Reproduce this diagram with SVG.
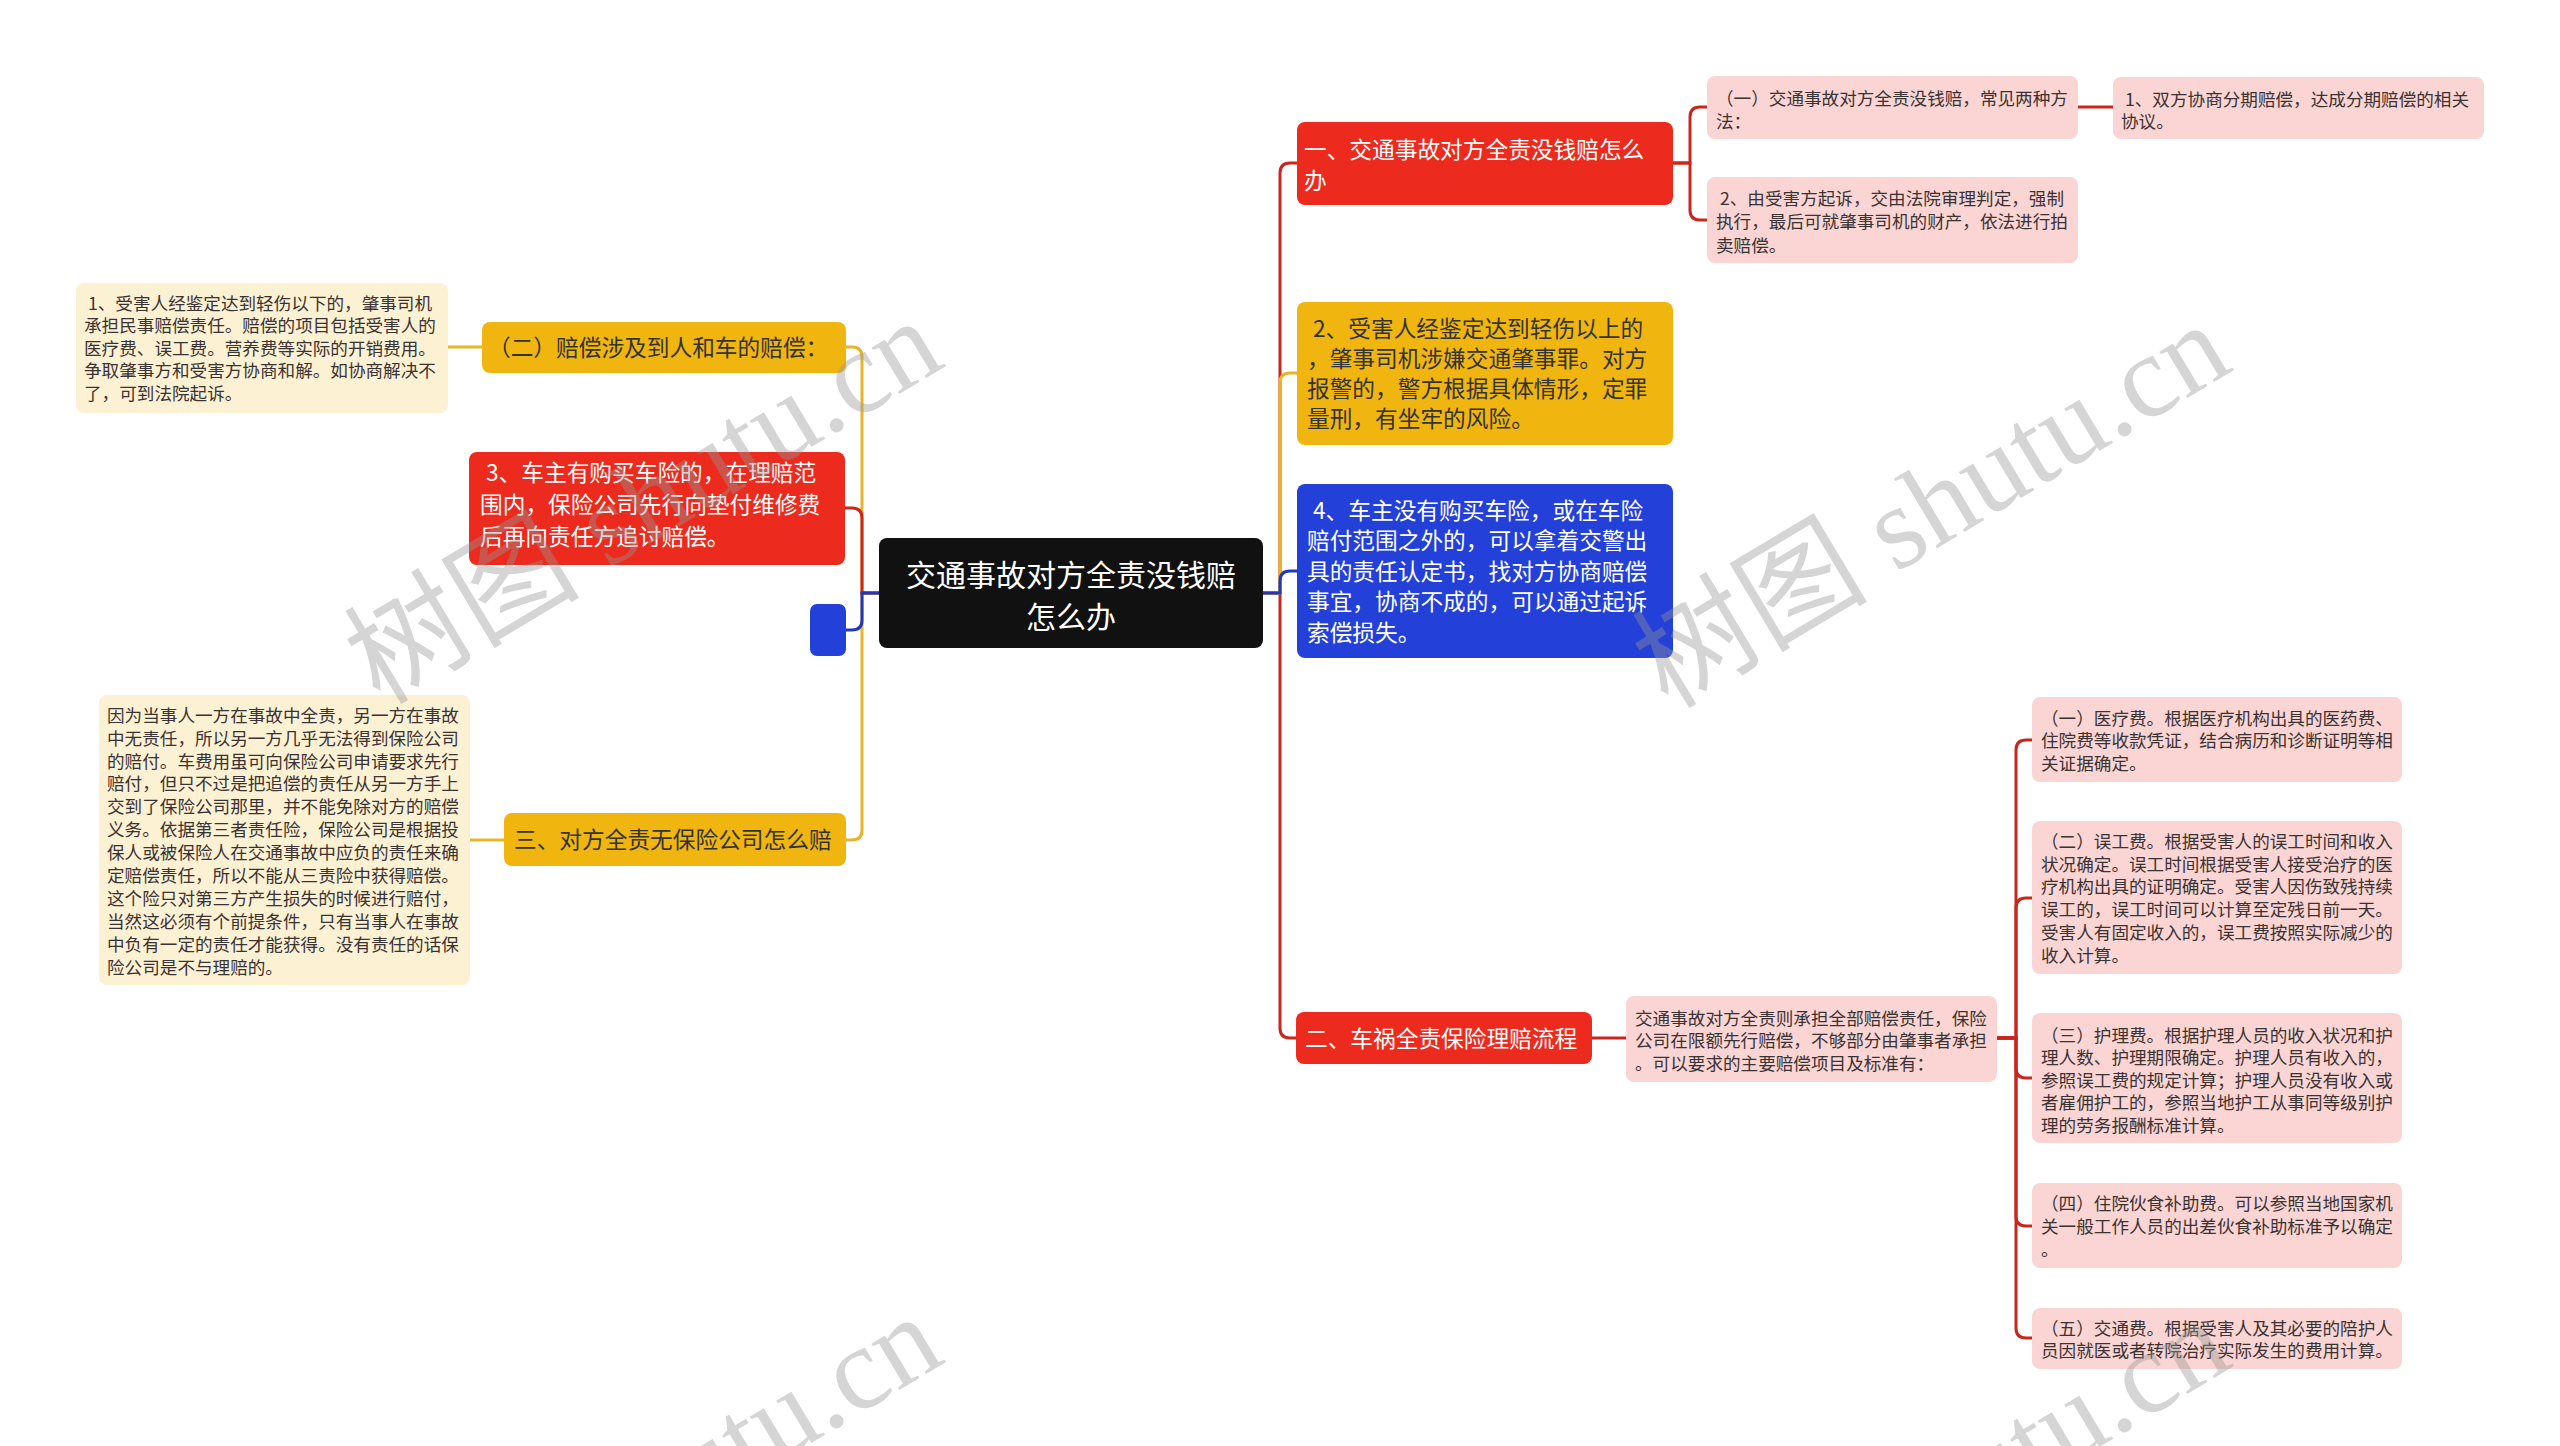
<svg xmlns="http://www.w3.org/2000/svg" width="2560" height="1446" viewBox="0 0 2560 1446">
<style>
text{font-family:"Noto Sans CJK SC","Noto Sans",sans-serif;}
.root{fill:#111111;}
.red{fill:#ec2a1d;}
.yel{fill:#f0b50f;}
.blu{fill:#2340d8;}
.pink{fill:#fad5d3;}
.pale{fill:#fdf1d3;}
.tr{font-size:30px;fill:#ffffff;text-anchor:middle;}
.tw{font-size:22.7px;fill:#ffffff;}
.td{font-size:22.7px;fill:#333333;}
.tl{font-size:17.6px;fill:#3a3333;}
.c{fill:none;stroke-width:3;}
.cr{stroke:#c9261d;}
.cy{stroke:#e8b52a;}
.cb{stroke:#2138b8;}
.wm{font-family:"Liberation Serif","Noto Sans CJK SC",serif;font-size:118px;fill:#969696;fill-opacity:0.4;}
</style>
<rect width="2560" height="1446" fill="#ffffff"/>
<g id="connectors">
  <path class="c cr" d="M1263 593 H1280 V173 Q1280 163 1290 163 H1298"/>
  <path class="c cr" d="M1263 593 H1280 V1028 Q1280 1038 1290 1038 H1296"/>
  <path class="c cy" d="M1263 593 H1280 V383 Q1280 373 1290 373 H1297"/>
  <path class="c cb" d="M1263 593 H1280 V581 Q1280 571 1290 571 H1297"/>
  <path class="c cr" d="M1672 163 H1690 V117 Q1690 107 1700 107 H1707"/>
  <path class="c cr" d="M1672 163 H1690 V210 Q1690 220 1700 220 H1707"/>
  <path class="c cr" d="M2078 107 H2113"/>
  <path class="c cr" d="M1592 1038 H1626"/>
  <path class="c cr" d="M1997 1038 H2016 V750 Q2016 740 2026 740 H2032"/>
  <path class="c cr" d="M1997 1038 H2016 V908 Q2016 898 2026 898 H2032"/>
  <path class="c cr" d="M1997 1038 H2016 V1068 Q2016 1078 2026 1078 H2032"/>
  <path class="c cr" d="M1997 1038 H2016 V1216 Q2016 1226 2026 1226 H2032"/>
  <path class="c cr" d="M1997 1038 H2016 V1328 Q2016 1338 2026 1338 H2032"/>
  <path class="c cy" d="M879 593 H862 V357 Q862 347 852 347 H846"/>
  <path class="c cy" d="M879 593 H862 V830 Q862 840 852 840 H846"/>
  <path class="c cr" d="M879 593 H862 V518 Q862 508 852 508 H845"/>
  <path class="c cb" d="M879 593 H862 V620 Q862 630 852 630 H846"/>
  <path class="c cy" d="M482 347 H448"/>
  <path class="c cy" d="M504 840 H470"/>
</g>
<g id="root">
  <rect class="root" x="879" y="538" width="384" height="110" rx="8"/>
  <text class="tr"><tspan x="1071" y="586.4">交通事故对方全责没钱赔</tspan><tspan x="1071" y="628.4">怎么办</tspan></text>
</g>
<g id="r1">
  <rect class="red" x="1297" y="122" width="376" height="83" rx="8"/>
  <text class="tw"><tspan x="1304" y="157.6">一、交通事故对方全责没钱赔怎么</tspan><tspan x="1304" y="188.6">办</tspan></text>
</g>
<g id="r1a">
  <rect class="pink" x="1707" y="76" width="371" height="63" rx="8"/>
  <text class="tl"><tspan x="1716" y="105">（一）交通事故对方全责没钱赔，常见两种方</tspan><tspan x="1716" y="128.4">法：</tspan></text>
</g>
<g id="r1a1">
  <rect class="pink" x="2113" y="77" width="371" height="62" rx="8"/>
  <text class="tl"><tspan x="2125" y="105.7">1、双方协商分期赔偿，达成分期赔偿的相关</tspan><tspan x="2121" y="128.4">协议。</tspan></text>
</g>
<g id="r1b">
  <rect class="pink" x="1707" y="177" width="371" height="86" rx="8"/>
  <text class="tl"><tspan x="1720" y="205">2、由受害方起诉，交由法院审理判定，强制</tspan><tspan x="1716" y="228.4">执行，最后可就肇事司机的财产，依法进行拍</tspan><tspan x="1716" y="251.7">卖赔偿。</tspan></text>
</g>
<g id="r2">
  <rect class="yel" x="1297" y="302" width="376" height="143" rx="8"/>
  <text class="td"><tspan x="1313" y="336.6">2、受害人经鉴定达到轻伤以上的</tspan><tspan x="1307" y="366.6">，肇事司机涉嫌交通肇事罪。对方</tspan><tspan x="1307" y="396.6">报警的，警方根据具体情形，定罪</tspan><tspan x="1307" y="426.6">量刑，有坐牢的风险。</tspan></text>
</g>
<g id="r3">
  <rect class="blu" x="1297" y="484" width="376" height="174" rx="8"/>
  <text class="tw"><tspan x="1313" y="518.6">4、车主没有购买车险，或在车险</tspan><tspan x="1307" y="549.1">赔付范围之外的，可以拿着交警出</tspan><tspan x="1307" y="579.6">具的责任认定书，找对方协商赔偿</tspan><tspan x="1307" y="610.1">事宜，协商不成的，可以通过起诉</tspan><tspan x="1307" y="640.6">索偿损失。</tspan></text>
</g>
<g id="r4">
  <rect class="red" x="1296" y="1012" width="296" height="52" rx="8"/>
  <text class="tw"><tspan x="1305" y="1046.6">二、车祸全责保险理赔流程</tspan></text>
</g>
<g id="r4a">
  <rect class="pink" x="1626" y="996" width="371" height="86" rx="8"/>
  <text class="tl"><tspan x="1635" y="1025">交通事故对方全责则承担全部赔偿责任，保险</tspan><tspan x="1635" y="1046.7">公司在限额先行赔偿，不够部分由肇事者承担</tspan><tspan x="1635" y="1070">。可以要求的主要赔偿项目及标准有：</tspan></text>
</g>
<g id="c1">
  <rect class="pink" x="2032" y="697" width="370" height="85" rx="8"/>
  <text class="tl"><tspan x="2041" y="725">（一）医疗费。根据医疗机构出具的医药费、</tspan><tspan x="2041" y="746.7">住院费等收款凭证，结合病历和诊断证明等相</tspan><tspan x="2041" y="770">关证据确定。</tspan></text>
</g>
<g id="c2">
  <rect class="pink" x="2032" y="821" width="370" height="153" rx="8"/>
  <text class="tl"><tspan x="2041" y="848.4">（二）误工费。根据受害人的误工时间和收入</tspan><tspan x="2041" y="871">状况确定。误工时间根据受害人接受治疗的医</tspan><tspan x="2041" y="893.4">疗机构出具的证明确定。受害人因伤致残持续</tspan><tspan x="2041" y="916">误工的，误工时间可以计算至定残日前一天。</tspan><tspan x="2041" y="939">受害人有固定收入的，误工费按照实际减少的</tspan><tspan x="2041" y="961.7">收入计算。</tspan></text>
</g>
<g id="c3">
  <rect class="pink" x="2032" y="1013" width="370" height="130" rx="8"/>
  <text class="tl"><tspan x="2041" y="1041.7">（三）护理费。根据护理人员的收入状况和护</tspan><tspan x="2041" y="1064.4">理人数、护理期限确定。护理人员有收入的，</tspan><tspan x="2041" y="1086.7">参照误工费的规定计算；护理人员没有收入或</tspan><tspan x="2041" y="1109.4">者雇佣护工的，参照当地护工从事同等级别护</tspan><tspan x="2041" y="1131.7">理的劳务报酬标准计算。</tspan></text>
</g>
<g id="c4">
  <rect class="pink" x="2032" y="1183" width="370" height="85" rx="8"/>
  <text class="tl"><tspan x="2041" y="1210">（四）住院伙食补助费。可以参照当地国家机</tspan><tspan x="2041" y="1232.7">关一般工作人员的出差伙食补助标准予以确定</tspan><tspan x="2041" y="1256">。</tspan></text>
</g>
<g id="c5">
  <rect class="pink" x="2032" y="1308" width="370" height="61" rx="8"/>
  <text class="tl"><tspan x="2041" y="1335">（五）交通费。根据受害人及其必要的陪护人</tspan><tspan x="2041" y="1356.7">员因就医或者转院治疗实际发生的费用计算。</tspan></text>
</g>
<g id="l1">
  <rect class="yel" x="482" y="322" width="364" height="51" rx="8"/>
  <text class="td"><tspan x="488" y="355.6">（二）赔偿涉及到人和车的赔偿：</tspan></text>
</g>
<g id="l1a">
  <rect class="pale" x="76" y="283" width="372" height="130" rx="8"/>
  <text class="tl"><tspan x="88" y="310">1、受害人经鉴定达到轻伤以下的，肇事司机</tspan><tspan x="84" y="331.7">承担民事赔偿责任。赔偿的项目包括受害人的</tspan><tspan x="84" y="355">医疗费、误工费。营养费等实际的开销费用。</tspan><tspan x="84" y="376.7">争取肇事方和受害方协商和解。如协商解决不</tspan><tspan x="84" y="400">了，可到法院起诉。</tspan></text>
</g>
<g id="l2">
  <rect class="red" x="469" y="452" width="376" height="113" rx="8"/>
  <text class="tw"><tspan x="486" y="480.6">3、车主有购买车险的，在理赔范</tspan><tspan x="480" y="512.6">围内，保险公司先行向垫付维修费</tspan><tspan x="480" y="544.6">后再向责任方追讨赔偿。</tspan></text>
</g>
<g id="l3">
  <rect class="blu" x="810" y="604" width="36" height="52" rx="7"/>
</g>
<g id="l4">
  <rect class="yel" x="504" y="813" width="342" height="53" rx="8"/>
  <text class="td"><tspan x="514" y="848">三、对方全责无保险公司怎么赔</tspan></text>
</g>
<g id="l4a">
  <rect class="pale" x="99" y="695" width="371" height="290" rx="8"/>
  <text class="tl"><tspan x="107" y="721.7">因为当事人一方在事故中全责，另一方在事故</tspan><tspan x="107" y="744.6">中无责任，所以另一方几乎无法得到保险公司</tspan><tspan x="107" y="767.5">的赔付。车费用虽可向保险公司申请要求先行</tspan><tspan x="107" y="790.4">赔付，但只不过是把追偿的责任从另一方手上</tspan><tspan x="107" y="813.3">交到了保险公司那里，并不能免除对方的赔偿</tspan><tspan x="107" y="836.2">义务。依据第三者责任险，保险公司是根据投</tspan><tspan x="107" y="859.1">保人或被保险人在交通事故中应负的责任来确</tspan><tspan x="107" y="882">定赔偿责任，所以不能从三责险中获得赔偿。</tspan><tspan x="107" y="904.9">这个险只对第三方产生损失的时候进行赔付，</tspan><tspan x="107" y="927.8">当然这必须有个前提条件，只有当事人在事故</tspan><tspan x="107" y="950.7">中负有一定的责任才能获得。没有责任的话保</tspan><tspan x="107" y="973.6">险公司是不与理赔的。</tspan></text>
</g>
<g id="watermark">
  <text class="wm" transform="translate(380 706) rotate(-31)">树图 shutu.cn</text>
  <text class="wm" transform="translate(1668 710) rotate(-31)">树图 shutu.cn</text>
  <text class="wm" transform="translate(380 1702) rotate(-31)">树图 shutu.cn</text>
  <text class="wm" transform="translate(1668 1706) rotate(-31)">树图 shutu.cn</text>
</g>
</svg>
